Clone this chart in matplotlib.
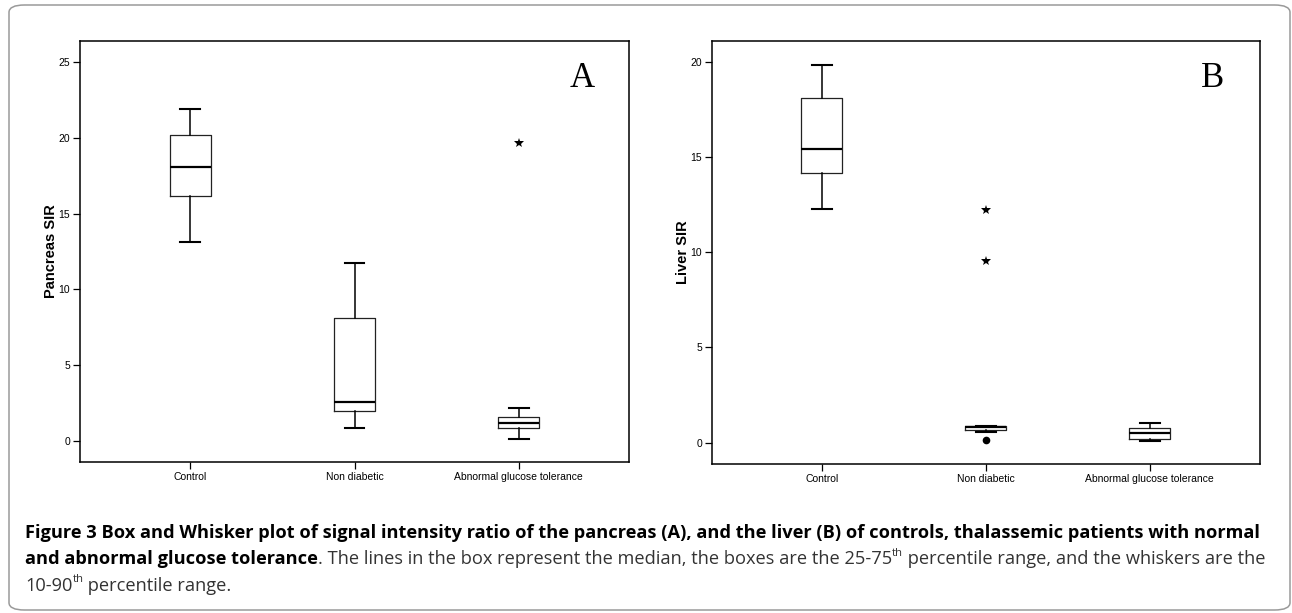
import matplotlib
matplotlib.use('Agg')
import matplotlib.pyplot as plt
from matplotlib.patches import FancyBboxPatch

groups = ['Control', 'Non diabetic', 'Abnormal glucose tolerance']

# Panel A - pancreas SIR
pan_whislo = [13.1, 0.86, 0.15]
pan_q1 = [16.2, 2.0, 0.86]
pan_med = [18.07, 2.57, 1.21]
pan_q3 = [20.2, 8.13, 1.56]
pan_whishi = [21.9, 11.74, 2.18]
pan_stars = [[], [], [19.68]]
pan_dots = [[], [], []]

# Panel B - liver SIR
liv_whislo = [12.28, 0.56, 0.09]
liv_q1 = [14.17, 0.66, 0.18]
liv_med = [15.42, 0.82, 0.49]
liv_q3 = [18.08, 0.86, 0.77]
liv_whishi = [19.85, 0.86, 1.05]
liv_stars = [[], [12.21, 9.53], []]
liv_dots = [[], [0.14], []]

pan_yticks = [0, 5, 10, 15, 20, 25]
liv_yticks = [0, 5, 10, 15, 20]

W, H = 1292, 613
fig = plt.figure(figsize=(W / 100, H / 100), dpi=100)

narrow = ['Liberation Sans Narrow', 'Liberation Sans', 'DejaVu Sans']


def panel(rect, whislo, q1, med, q3, whishi, stars, dots, ylim, yticks, ylabel, letter):
    ax = fig.add_axes(rect)
    stats = []
    for i in range(len(groups)):
        stats.append(dict(whislo=whislo[i], q1=q1[i], med=med[i], q3=q3[i],
                          whishi=whishi[i], fliers=[], label=groups[i]))
    pos = [1, 2, 3]
    ax.bxp(stats, positions=pos, widths=0.25, capwidths=0.12, showfliers=False,
           boxprops=dict(color='#222222', linewidth=0.9),
           medianprops=dict(color='black', linewidth=1.6),
           whiskerprops=dict(color='black', linewidth=1.1),
           capprops=dict(color='black', linewidth=1.5))
    for i in range(len(groups)):
        if stars[i]:
            ax.plot([pos[i]] * len(stars[i]), stars[i], ls='none', marker='*',
                    ms=7, color='black', mew=0)
        if dots[i]:
            ax.plot([pos[i]] * len(dots[i]), dots[i], ls='none', marker='o',
                    ms=5.5, color='black', mew=0)
    ax.set_xlim(0.33, 3.67)
    ax.set_ylim(*ylim)
    ax.set_yticks(yticks)
    ax.set_xticks(pos)
    ax.set_xticklabels(groups, family=narrow, fontsize=7.5)
    for t in ax.get_yticklabels():
        t.set_family(narrow)
        t.set_fontsize(7.5)
    ax.tick_params(direction='out', length=5, width=0.9, pad=2)
    for s in ax.spines.values():
        s.set_linewidth(1.1)
    ax.set_ylabel(ylabel, fontsize=10.5, fontweight='bold', family='Liberation Sans', labelpad=0.5)
    ax.text(0.915, 0.912, letter, transform=ax.transAxes, ha='center', va='center',
            fontsize=25, family='Liberation Serif')
    return ax


axA = panel([80 / W, 1 - 462 / H, 549 / W, 421 / H], pan_whislo, pan_q1, pan_med,
            pan_q3, pan_whishi, pan_stars, pan_dots, (-1.39, 26.4), pan_yticks,
            'Pancreas SIR', 'A')
axB = panel([712 / W, 1 - 464 / H, 547.5 / W, 423 / H], liv_whislo, liv_q1, liv_med,
            liv_q3, liv_whishi, liv_stars, liv_dots, (-1.12, 21.1), liv_yticks,
            'Liver SIR', 'B')

# outer rounded frame
frame = FancyBboxPatch((9 / W, 1 - 610 / H), 1281 / W, 605 / H,
                       boxstyle='round,pad=0,rounding_size=0.012',
                       transform=fig.transFigure, fill=False,
                       edgecolor='#9a9a9a', linewidth=1.1)
fig.patches.append(frame)

# caption
cap_font = 'Open Sans'
renderer = fig.canvas.get_renderer()
line1 = ('Figure 3 Box and Whisker plot of signal intensity ratio of the pancreas (A), '
         'and the liver (B) of controls, thalassemic patients with normal')


def width_of(txt, size, bold):
    t = fig.text(0, 0, txt, fontsize=size, fontweight='bold' if bold else 'normal',
                 family=cap_font)
    w = t.get_window_extent(renderer).width
    t.remove()
    return w


bold_size = 12 * 1238 / width_of(line1, 12, True)

line2 = [('and abnormal glucose tolerance', True, False),
         ('. The lines in the box represent the median, the boxes are the 25-75', False, False),
         ('th', False, True),
         (' percentile range, and the whiskers are the', False, False)]
bw = sum(width_of(t, bold_size, True) for t, b, s in line2 if b)
rw = sum(width_of(t, bold_size * (0.62 if s else 1), False) for t, b, s in line2 if not b)
reg_size = bold_size * (1263 - 25 - bw) / rw


def write_line(pieces, y):
    x = 25
    for txt, bold, sup in pieces:
        size = bold_size if bold else reg_size
        if sup:
            size *= 0.62
        yy = y - (6 if sup else 0)
        t = fig.text(x / W, 1 - yy / H, txt, fontsize=size,
                     fontweight='bold' if bold else 'normal',
                     family=cap_font, color='black' if bold else '#333333',
                     va='center', ha='left')
        x += t.get_window_extent(renderer).width


write_line([(line1, True, False)], 533)
write_line(line2, 559)
write_line([('10-90', False, False), ('th', False, True),
            (' percentile range.', False, False)], 586)

fig.savefig('out.png', dpi=100)
